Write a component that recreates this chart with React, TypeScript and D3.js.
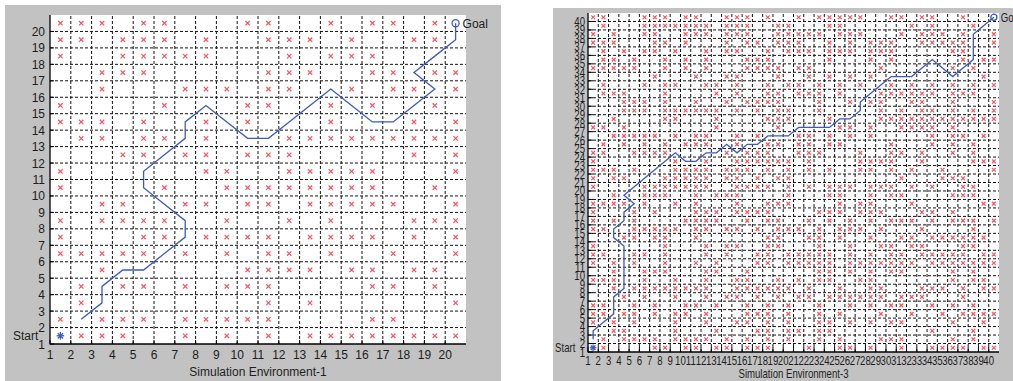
import React from 'react';
import * as d3 from 'd3';

// Obstacle cells, listed top row first; each entry is the columns holding a red x
const env1Obstacles: number[][] = [
  [1, 2, 3, 5, 6, 10, 11, 14, 16, 17, 19],
  [1, 2, 4, 5, 6, 8, 11, 12, 13, 15, 18, 19],
  [1, 4, 5, 6, 7, 8, 12, 14, 15, 16],
  [3, 4, 5, 11, 12, 13, 16, 17, 19, 20],
  [3, 7, 8, 9, 11, 12, 15, 17, 18, 20],
  [1, 6, 10, 11, 14, 16, 19],
  [1, 2, 3, 5, 8, 10, 14, 18, 20],
  [2, 3, 5, 6, 8, 12, 13, 14, 15, 16, 17, 18, 19, 20],
  [4, 5, 7, 8, 10, 11, 12, 18, 20],
  [1, 8, 9, 12, 13, 14, 15, 16, 20],
  [1, 6, 9, 10, 11, 12, 13, 14, 15, 16, 19],
  [3, 4, 7, 8, 10, 11, 13, 14, 15, 16, 17, 20],
  [1, 3, 4, 5, 6, 9, 12, 14, 18, 19, 20],
  [1, 5, 6, 8, 9, 10, 11, 13, 14, 15, 16, 18, 20],
  [1, 2, 3, 4, 5, 7, 9, 11, 12, 14, 17, 20],
  [3, 10, 11, 12, 13, 15, 16, 18, 19],
  [2, 4, 5, 7, 9, 10, 11, 16, 17, 19],
  [2, 11, 13, 20],
  [1, 3, 4, 5, 7, 8, 9, 10, 11, 16, 17],
  [2, 3, 4, 7, 9, 11, 13, 14, 15, 16, 17, 18, 19, 20],
];

const env1Path: [number, number][] = [
  [2.5, 2.5], [3.5, 3.5], [3.5, 4.5], [4.5, 5.5], [5.5, 5.5], [6.5, 6.5], [7.5, 7.5],
  [7.5, 8.5], [6.5, 9.5], [5.5, 10.5], [5.5, 11.5], [6.5, 12.5], [7.5, 13.5], [7.5, 14.5],
  [8.5, 15.5], [9.5, 14.5], [10.5, 13.5], [11.5, 13.5], [12.5, 14.5], [13.5, 15.5],
  [14.5, 16.5], [15.5, 15.5], [16.5, 14.5], [17.5, 14.5], [18.5, 15.5], [19.5, 16.5],
  [18.5, 17.5], [19.5, 18.5], [20.5, 19.5], [20.5, 20.5],
];

const env3Obstacles: number[][] = [
  [1, 2, 6, 7, 8, 10, 11, 14, 15, 16, 18, 21, 23, 24, 25, 26, 27, 30, 31, 33, 34, 37],
  [2, 6, 7, 8, 9, 10, 11, 12, 14, 15, 16, 19, 20, 24, 25, 32, 34, 38],
  [1, 3, 6, 7, 10, 11, 12, 14, 15, 16, 19, 20, 21, 22, 23, 25, 26, 27, 31, 33, 34, 35, 37, 40],
  [1, 2, 3, 7, 8, 10, 14, 16, 17, 19, 20, 21, 24, 26, 28, 29, 30, 33, 34, 35, 36, 37, 40],
  [2, 4, 6, 7, 9, 12, 14, 15, 18, 20, 21, 22, 24, 25, 26, 28, 29, 30, 36, 37],
  [2, 3, 5, 8, 10, 12, 16, 17, 18, 24, 28, 30, 37, 39, 40],
  [1, 2, 3, 4, 5, 8, 10, 12, 16, 17, 18, 19, 21, 22, 29, 36, 38],
  [7, 11, 14, 15, 19, 22, 24, 26, 28, 39],
  [2, 6, 8, 9, 12, 13, 15, 18, 20, 21, 23, 25, 27, 30, 32, 34, 36, 38, 40],
  [2, 3, 4, 8, 13, 15, 18, 19, 21, 22, 23, 25, 29, 30, 31, 32, 33, 34, 36, 37, 38],
  [4, 5, 6, 8, 11, 14, 16, 17, 18, 19, 23, 26, 28, 29, 32, 33, 36, 40],
  [4, 5, 6, 8, 9, 10, 11, 12, 13, 15, 17, 19, 20, 23, 29, 31, 33, 34, 36, 38, 40],
  [3, 8, 9, 13, 18, 19, 20, 24, 29, 30, 31, 32, 33, 34, 35, 36, 37, 38, 39, 40],
  [1, 2, 4, 13, 19, 25, 26, 28, 31, 32, 33, 34, 36],
  [3, 4, 5, 6, 7, 9, 11, 12, 15, 17, 21, 22, 24, 26, 28, 34, 36, 37, 39],
  [2, 4, 6, 8, 10, 11, 12, 15, 18, 19, 21, 22, 24, 25, 30, 34, 36, 38],
  [1, 2, 5, 6, 7, 8, 14, 16, 17, 18, 21, 22, 23, 27, 30, 31, 33, 36, 38],
  [1, 9, 12, 15, 16, 17, 18, 19, 20, 22, 27, 28, 29, 30, 33, 38, 39, 40],
  [1, 2, 3, 5, 9, 10, 11, 12, 14, 15, 16, 18, 20, 22, 24, 27, 28, 30, 32, 35, 40],
  [1, 3, 4, 8, 9, 10, 11, 12, 14, 15, 17, 19, 20, 31, 35, 36, 37],
  [1, 6, 7, 8, 9, 10, 11, 12, 15, 16, 17, 18, 20, 22, 24, 25, 26, 28, 29, 30, 32, 34, 37, 38],
  [3, 6, 7, 8, 11, 13, 14, 15, 20, 24, 25, 28, 30, 31, 36, 37, 38],
  [1, 2, 3, 4, 6, 9, 11, 15, 18, 19, 20, 25, 27, 28, 32, 39, 40],
  [1, 5, 7, 11, 12, 13, 15, 16, 17, 18, 23, 24, 25, 27, 28, 29, 33, 34, 36],
  [1, 3, 5, 10, 11, 12, 13, 16, 18, 19, 22, 24, 26, 28, 30, 31, 32, 34, 36, 37, 38, 40],
  [1, 2, 5, 6, 7, 8, 9, 11, 12, 14, 15, 17, 19, 20, 21, 23, 25, 26, 27, 29, 33, 38],
  [4, 5, 7, 8, 11, 18, 19, 22, 23, 25, 28, 31, 32, 34, 35, 36, 37, 38, 39],
  [1, 8, 12, 14, 15, 18, 19, 23, 26, 29, 30, 32, 33, 37, 38],
  [1, 2, 5, 6, 8, 12, 14, 17, 18, 20, 21, 22, 23, 24, 26, 28, 30, 31, 33, 34, 35, 36, 37, 39, 40],
  [1, 3, 5, 8, 11, 13, 17, 18, 20, 21, 22, 23, 24, 26, 27, 28, 29, 30, 31, 32, 34, 35, 36, 37, 38, 39, 40],
  [3, 6, 7, 8, 12, 13, 16, 23, 24, 26, 28, 30, 31, 36, 38],
  [1, 2, 3, 6, 9, 12, 15, 16, 19, 21, 23, 24, 27, 28, 36, 38, 39],
  [3, 5, 6, 7, 8, 9, 10, 11, 12, 15, 16, 17, 18, 19, 20, 22, 25, 28, 29, 33, 34, 35, 37, 39, 40],
  [4, 6, 9, 12, 14, 15, 17, 19, 21, 22, 24, 25, 26, 27, 28, 29, 31, 32, 33, 37],
  [1, 2, 5, 7, 10, 11, 13, 16, 18, 20, 23, 26, 28, 30, 31, 34, 36, 38],
  [1, 2, 4, 5, 7, 9, 10, 12, 16, 17, 18, 20, 23, 25, 29, 32, 35, 37, 38, 39, 40],
  [1, 3, 5, 9, 12, 15, 16, 18, 20, 23, 24, 26, 28, 30, 31, 36, 39],
  [3, 4, 9, 13, 17, 18, 20, 21, 23, 24, 34, 38],
  [2, 4, 5, 6, 7, 9, 10, 11, 12, 14, 16, 18, 20, 23, 25, 29, 30, 31, 36, 38],
  [2, 7, 8, 10, 11, 13, 14, 16, 17, 18, 22, 25, 26, 28, 31, 34, 35, 36, 37, 39, 40],
];

const env3Path: [number, number][] = [
  [1.5, 2.5], [1.5, 3.5], [2.5, 4.5], [3.5, 5.5], [3.5, 6.5], [3.5, 7.5], [4.5, 8.5],
  [4.5, 13.5], [3.5, 14.5], [3.5, 15.5], [4.5, 16.5], [4.5, 17.5], [5.5, 18.5], [4.5, 19.5],
  [5.5, 20.5], [6.5, 21.5], [7.5, 22.5], [8.5, 23.5], [9.5, 24.5], [10.5, 23.5], [11.5, 23.5],
  [12.5, 24.5], [13.5, 24.5], [14.5, 25.5], [15.5, 24.5], [16.5, 25.5], [17.5, 25.5],
  [18.5, 26.5], [20.5, 26.5], [21.5, 27.5], [24.5, 27.5], [25.5, 28.5], [26.5, 28.5],
  [27.5, 29.5], [27.5, 30.5], [28.5, 31.5], [29.5, 32.5], [30.5, 33.5], [32.5, 33.5],
  [33.5, 34.5], [34.5, 35.5], [35.5, 34.5], [36.5, 33.5], [37.5, 34.5], [38.5, 35.5],
  [38.5, 38.5], [39.5, 39.5], [40.5, 40.5],
];

const env1Start: [number, number] = [1.5, 1.5];
const env1Goal: [number, number] = [20.5, 20.5];
const env3Start: [number, number] = [1.5, 1.5];
const env3Goal: [number, number] = [40.5, 40.5];

const env1Ticks = d3.range(1, 21);
const env3Ticks = d3.range(1, 41);

const FONT = '"Liberation Sans", Arial, sans-serif';
const GRAY = '#c2c2c2';
const RED = '#f2555f';
const BLUE = '#3a5abf';
const TEXT = '#1e1e1e';

interface PanelProps {
  box: { x: number; y: number; w: number; h: number };
  plot: { l: number; r: number; t: number; b: number };
  n: number;
  ticks: number[];
  obstacles: number[][];
  path: [number, number][];
  start: [number, number];
  goal: [number, number];
  title: string;
  fontSize: number;
  sx: number; // horizontal squeeze of the text
  mark: number;
  tickLen: number;
  xLabelY: number;
  yLabelX: number;
  titleY: number;
}

const Label: React.FC<{ x: number; y: number; sx: number; size: number; anchor?: string; children: React.ReactNode }> = ({
  x, y, sx, size, anchor = 'middle', children,
}) => (
  <text
    transform={`translate(${x},${y}) scale(${sx},1)`}
    textAnchor={anchor}
    fontFamily={FONT}
    fontSize={size}
    fill={TEXT}
  >
    {children}
  </text>
);

const Panel: React.FC<PanelProps> = (p) => {
  const x = d3.scaleLinear().domain([1, p.n + 1]).range([p.plot.l, p.plot.r]);
  const y = d3.scaleLinear().domain([1, p.n + 1]).range([p.plot.b, p.plot.t]);
  const line = d3
    .line<[number, number]>()
    .x((d) => x(d[0]))
    .y((d) => y(d[1]));
  const inner = d3.range(2, p.n + 1);
  const m = p.mark;
  const [sxp, syp] = [x(p.start[0]), y(p.start[1])];
  const [gxp, gyp] = [x(p.goal[0]), y(p.goal[1])];
  const rStar = m * 1.7;

  return (
    <g>
      <rect x={p.box.x} y={p.box.y} width={p.box.w} height={p.box.h} fill={GRAY} />
      <rect x={p.plot.l} y={p.plot.t} width={p.plot.r - p.plot.l} height={p.plot.b - p.plot.t} fill="#fff" />

      {/* dashed grid */}
      <g stroke="#111" strokeWidth={1} strokeDasharray="3,2">
        {inner.map((v) => (
          <line key={`gx${v}`} x1={x(v)} x2={x(v)} y1={p.plot.b} y2={p.plot.t} />
        ))}
        {inner.map((v) => (
          <line key={`gy${v}`} x1={p.plot.l} x2={p.plot.r} y1={y(v)} y2={y(v)} />
        ))}
      </g>

      {/* obstacles */}
      <g stroke={RED} strokeWidth={1.2}>
        {p.obstacles.map((cols, i) => {
          const row = p.n - i + 0.5;
          return cols.map((c) => {
            const cx = x(c + 0.5);
            const cy = y(row);
            return (
              <path key={`o${i}-${c}`} d={`M${cx - m},${cy - m}L${cx + m},${cy + m}M${cx - m},${cy + m}L${cx + m},${cy - m}`} />
            );
          });
        })}
      </g>

      {/* axes */}
      <g stroke="#000" strokeWidth={1.3}>
        <line x1={p.plot.l} x2={p.plot.l} y1={p.plot.t} y2={p.plot.b + 0.6} />
        <line x1={p.plot.l} x2={p.plot.r} y1={p.plot.b} y2={p.plot.b} />
      </g>
      <g stroke="#000" strokeWidth={1}>
        {p.ticks.map((v) => (
          <line key={`tx${v}`} x1={x(v)} x2={x(v)} y1={p.plot.b} y2={p.plot.b - p.tickLen} />
        ))}
        {p.ticks.map((v) => (
          <line key={`ty${v}`} x1={p.plot.l} x2={p.plot.l + p.tickLen} y1={y(v)} y2={y(v)} />
        ))}
      </g>

      {/* path */}
      <path d={line(p.path) ?? ''} fill="none" stroke={BLUE} strokeWidth={1.3} />
      <g stroke={BLUE} strokeWidth={1.3}>
        {d3.range(4).map((k) => {
          const a = (k * Math.PI) / 4;
          return (
            <line key={`s${k}`} x1={sxp - rStar * Math.cos(a)} y1={syp - rStar * Math.sin(a)} x2={sxp + rStar * Math.cos(a)} y2={syp + rStar * Math.sin(a)} />
          );
        })}
      </g>
      <circle cx={gxp} cy={gyp} r={m * 1.6} fill="none" stroke={BLUE} strokeWidth={1.3} />

      {/* tick labels */}
      {p.ticks.map((v) => (
        <Label key={`lx${v}`} x={x(v)} y={p.xLabelY} sx={p.sx} size={p.fontSize}>
          {v}
        </Label>
      ))}
      {p.ticks.map((v) => (
        <Label key={`ly${v}`} x={p.yLabelX} y={y(v) + p.fontSize * 0.36} sx={p.sx} size={p.fontSize} anchor="end">
          {v}
        </Label>
      ))}

      <Label x={(p.plot.l + p.plot.r) / 2} y={p.titleY} sx={p.sx} size={p.fontSize}>
        {p.title}
      </Label>
      <Label x={sxp - 23 * p.sx} y={syp + p.fontSize * 0.36} sx={p.sx} size={p.fontSize} anchor="end">
        Start
      </Label>
      <Label x={gxp + 7} y={gyp + p.fontSize * 0.36} sx={p.sx} size={p.fontSize} anchor="start">
        Goal
      </Label>
    </g>
  );
};

export default function App() {
  return (
    <svg width={1013} height={381} style={{ position: 'absolute', left: 0, top: 0, background: '#fff' }}>
      <Panel
        box={{ x: 5, y: 5, w: 496, h: 376 }}
        plot={{ l: 50, r: 466, t: 15, b: 344 }}
        n={20}
        ticks={env1Ticks}
        obstacles={env1Obstacles}
        path={env1Path}
        start={env1Start}
        goal={env1Goal}
        title="Simulation Environment-1"
        fontSize={12.5}
        sx={0.96}
        mark={2.2}
        tickLen={4}
        xLabelY={358.7}
        yLabelX={45}
        titleY={376}
      />
      <Panel
        box={{ x: 553, y: 8, w: 460, h: 373 }}
        plot={{ l: 588, r: 999, t: 13, b: 352 }}
        n={40}
        ticks={env3Ticks}
        obstacles={env3Obstacles}
        path={env3Path}
        start={env3Start}
        goal={env3Goal}
        title="Simulation Environment-3"
        fontSize={12.5}
        sx={0.77}
        mark={1.9}
        tickLen={5}
        xLabelY={365}
        yLabelX={585}
        titleY={378.4}
      />
    </svg>
  );
}
